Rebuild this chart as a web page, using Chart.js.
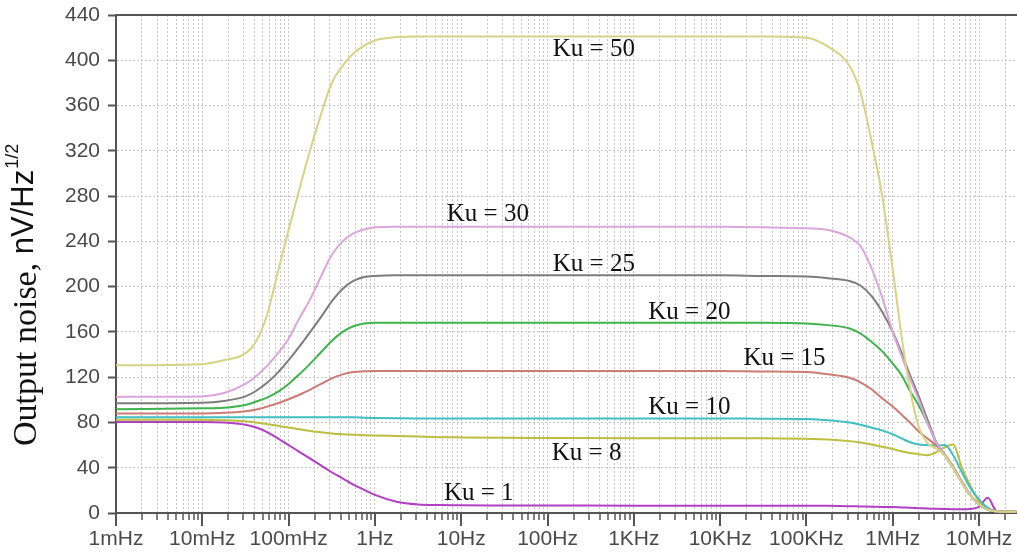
<!DOCTYPE html>
<html lang="en">
<head>
<meta charset="UTF-8">
<title>Output noise vs frequency</title>
<style>
  html, body { margin: 0; padding: 0; background: #fff; }
  #chart { display: block; }
</style>
</head>
<body>
<canvas id="chart" width="1017" height="555"></canvas>
<script src="https://cdn.jsdelivr.net/npm/chart.js"></script>
<script>
// frequency points (Hz)
const freq = [0.001, 0.01, 0.0178, 0.0316, 0.0422, 0.0562, 0.075, 0.1, 0.133, 0.178, 0.237, 0.316, 0.422, 0.562, 0.75,
  1, 1.78, 3.16, 5.62, 10, 31.6, 100, 1e3, 1e4, 3.16e4, 1e5, 1.78e5, 3.16e5, 4.22e5, 5.62e5, 7.5e5,
  1e6, 1.26e6, 1.58e6, 2e6, 2.51e6, 3.16e6, 3.98e6, 5.01e6, 6.31e6, 7.94e6, 1e7, 1.26e7, 1.58e7, 2e7, 2.7e7];

// output noise, nV/Hz^1/2
const ku50 = [130.6, 131.5, 135, 141, 152, 175, 213, 250, 286, 321, 352, 380, 395, 406, 413,
  417.5, 420.5, 421, 421, 421, 421, 421, 421, 421, 421, 420, 412, 395, 372, 330, 281,
  215, 157, 110, 76, 62, 57, 51, 40, 27, 15.5, 7.5, 3, 1.5, 1, 1];
const ku30 = [102.6, 103, 106, 114, 121, 130, 141, 154, 172, 189, 209, 228, 240, 247, 250.5,
  252.5, 253, 253, 253, 253, 253, 253, 253, 253, 252.5, 251.5, 250, 243.5, 236, 217, 191,
  160, 139, 119, 100, 80, 63, 51, 40, 27, 15.5, 7.5, 3, 1.5, 1, 1];
const ku25 = [97, 97.5, 99, 103, 108, 115, 124, 135, 147, 160, 173, 187, 198, 205, 208.5,
  209.5, 210, 210, 210, 210, 210, 210, 210, 210, 209.5, 209, 207.5, 205, 201, 192, 178,
  160, 142, 122, 103, 83, 63, 51, 40, 27, 15.5, 7.5, 3, 1.5, 1, 1];
const ku20 = [91.7, 92.5, 93, 95.5, 98.5, 102, 107, 114, 122.5, 132, 142, 152, 160, 165, 167.5,
  168, 168, 168, 168, 168, 168, 168, 168, 168, 168, 167.5, 166, 163, 158.5, 151.5, 143,
  132, 122, 108, 95, 80, 63, 51, 40, 27, 15.5, 7.5, 3, 1.5, 1, 1];
const ku15 = [88, 88, 88.5, 90, 91.5, 94, 97, 100.5, 104.5, 109, 114, 119, 122.5, 124.5, 125.3,
  125.5, 125.5, 125.5, 125.5, 125.5, 125.5, 125.5, 125.5, 125.5, 125, 124.5, 122.5, 119.5, 115.5, 109.5, 101.5,
  94, 87, 80, 72, 66, 60, 52, 41, 28, 16, 7.5, 3, 1.5, 1, 1];
const ku10 = [84.5, 84.5, 84.5, 84.5, 84.5, 84.5, 84.5, 84.5, 84.5, 84.5, 84.5, 84.5, 84.5, 84.5, 84.2,
  84, 83.7, 83.5, 83.5, 83.5, 83.5, 83.5, 83.5, 83.5, 83.3, 83, 82, 80, 78, 75.5, 73,
  69.5, 66, 62.5, 60.5, 60, 59.5, 60, 51, 36, 22, 12, 4.5, 1.5, 1, 1];
const ku8 = [82.5, 82.5, 82, 81, 80, 78.5, 77, 75.5, 74, 72.5, 71.3, 70.3, 69.6, 69.2, 68.8,
  68.5, 68, 67.5, 67, 66.8, 66.5, 66.3, 66, 66, 66, 65.5, 65, 63.5, 62.2, 60.5, 58.5,
  56.5, 54.5, 53, 52, 51, 53.5, 58, 60.5, 40, 24, 10, 4, 1.5, 1, 1];
const ku1 = [80.5, 80.5, 80, 78, 75.5, 71.5, 66, 60, 54, 48, 42, 36, 30.5, 25, 20.5,
  16, 10, 7.6, 7, 6.8, 6.7, 6.6, 6.5, 6.5, 6.5, 6.4, 6.3, 6, 5.8, 5.6, 5.4,
  5.2, 4.9, 4.6, 4.3, 4, 3.8, 3.6, 3.4, 3.3, 3.5, 5.5, 13.5, 2, 1, 1];

const seriesNames = ['Ku = 50', 'Ku = 30', 'Ku = 25', 'Ku = 20', 'Ku = 15', 'Ku = 10', 'Ku = 8', 'Ku = 1'];
const seriesValues = [ku50, ku30, ku25, ku20, ku15, ku10, ku8, ku1];
const seriesColors = ['#d6d383', '#dca6dc', '#7d7d7d', '#3eb44c', '#cd7b75', '#3fbfc2', '#bdbd3e', '#b23fc3'];

// where each curve label sits (frequency, value)
const labelFreq = [115, 6.8, 115, 1470, 18600, 1470, 112, 6.3];
const labelValue = [409.5, 264, 219.5, 177.5, 136.5, 93, 52.5, 17];

const tickLabels = ['1mHz', '10mHz', '100mHz', '1Hz', '10Hz', '100Hz', '1KHz', '10KHz', '100KHz', '1MHz', '10MHz'];

const sansFont = '"Liberation Sans", Arial, sans-serif';
const serifFont = '"Liberation Serif", "Times New Roman", serif';

function isDecade(v) {
  const e = Math.log10(v);
  return Math.abs(e - Math.round(e)) < 1e-6;
}

const extras = {
  id: 'extras',
  beforeDraw(chart) {
    const c = chart.ctx;
    c.save();
    c.fillStyle = '#fff';
    c.fillRect(0, 0, chart.width, chart.height);
    c.restore();
  },
  afterDraw(chart) {
    const c = chart.ctx, a = chart.chartArea, xs = chart.scales.x, ys = chart.scales.y;
    c.save();
    // top frame line
    c.strokeStyle = '#555';
    c.lineWidth = 2;
    c.beginPath();
    c.moveTo(a.left, a.top);
    c.lineTo(a.right, a.top);
    c.stroke();
    // x tick marks, long on decades
    xs.ticks.forEach(t => {
      const px = Math.round(xs.getPixelForValue(t.value));
      const major = isDecade(t.value);
      c.lineWidth = major ? 2 : 1.5;
      c.beginPath();
      c.moveTo(px, a.bottom);
      c.lineTo(px, a.bottom + (major ? 13 : 7));
      c.stroke();
    });
    // curve labels
    c.fillStyle = '#111';
    c.font = '25px ' + serifFont;
    c.textAlign = 'left';
    c.textBaseline = 'middle';
    seriesNames.forEach((n, i) => {
      c.fillText(n, xs.getPixelForValue(labelFreq[i]), ys.getPixelForValue(labelValue[i]));
    });
    // y axis title
    c.translate(36, 446);
    c.rotate(-Math.PI / 2);
    c.textBaseline = 'alphabetic';
    c.font = '34px ' + serifFont;
    const part1 = 'Output noise, ';
    c.fillText(part1, 0, 0);
    let w = c.measureText(part1).width;
    c.font = '31px ' + sansFont;
    c.fillText('nV/Hz', w, -3);
    w += c.measureText('nV/Hz').width;
    c.font = '18px ' + sansFont;
    c.fillText('1/2', w + 1, -18);
    c.restore();
  }
};

new Chart(document.getElementById('chart'), {
  type: 'line',
  data: {
    datasets: seriesNames.map((n, i) => ({
      label: n,
      data: freq.map((f, j) => ({ x: f, y: seriesValues[i][j] })),
      borderColor: seriesColors[i],
      borderWidth: 2,
      pointRadius: 0,
      fill: false,
      cubicInterpolationMode: 'monotone'
    }))
  },
  options: {
    responsive: false,
    animation: false,
    layout: { padding: { top: 15, right: 0, left: 0, bottom: 0 } },
    plugins: { legend: { display: false }, tooltip: { enabled: false } },
    scales: {
      x: {
        type: 'logarithmic',
        min: 1e-3,
        max: 2.75e7,
        afterBuildTicks: scale => {
          const t = [];
          for (let e = -3; e <= 7; e++) {
            for (let m = 1; m <= 9; m++) {
              const v = m * Math.pow(10, e);
              if (v <= scale.max) t.push({ value: v });
            }
          }
          scale.ticks = t;
        },
        afterFit: s => { s.height = 42; s.paddingLeft = 0; s.paddingRight = 0; },
        ticks: {
          autoSkip: false,
          maxRotation: 0,
          minRotation: 0,
          padding: 14,
          color: '#4a4a4a',
          font: { family: sansFont, size: 21 },
          callback: v => isDecade(v) ? tickLabels[Math.round(Math.log10(v)) + 3] : ''
        },
        grid: { color: '#c6c6c6', lineWidth: 1, drawTicks: false },
        border: { color: '#555', width: 2, dash: [2, 2] }
      },
      y: {
        min: 0,
        max: 440,
        afterFit: s => { s.width = 116; s.paddingTop = 0; s.paddingBottom = 0; },
        ticks: {
          stepSize: 40,
          padding: 8,
          color: '#4a4a4a',
          font: { family: sansFont, size: 21 }
        },
        grid: { color: '#c6c6c6', lineWidth: 1, tickColor: '#555', tickLength: 8, tickWidth: 2 },
        border: { color: '#555', width: 2, dash: [2, 2] }
      }
    }
  },
  plugins: [extras]
});
</script>
</body>
</html>
